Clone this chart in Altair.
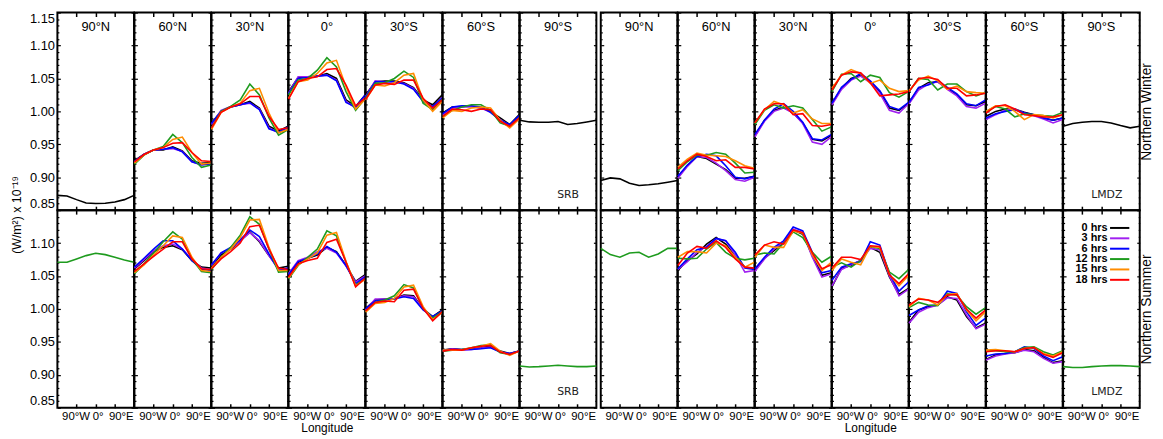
import altair as alt
import pandas as pd

# ---------------- data ----------------
LONS = [-180, -135, -90, -45, 0, 45, 90, 135, 180]
SERIES = ["0 hrs", "3 hrs", "6 hrs", "12 hrs", "15 hrs", "18 hrs"]
COLORS = ["#000000", "#a020f0", "#0000ff", "#1e9b1e", "#ff8c00", "#ff0000"]
LATS = ["90°N", "60°N", "30°N", "0°", "30°S", "60°S", "90°S"]
MODELS = ["SRB", "LMDZ"]
SEASONS = ["Northern Winter", "Northern Summer"]
POLAR_SERIES = ["0 hrs", "12 hrs"]
XTICKS = [-90, 0, 90]
XTICK_LABELS = ["90°W", "0°", "90°E"]
YTICKS_TOP = [0.85, 0.90, 0.95, 1.00, 1.05, 1.10, 1.15]
YTICKS_BOTTOM = [0.85, 0.90, 0.95, 1.00, 1.05, 1.10]
Y_TITLE = "(W/m²) x 10⁻¹⁹"
X_TITLE = "Longitude"

# ---- SRB, Northern Winter ----
SRB_W_90N = [0.8725, 0.8715, 0.866, 0.861, 0.86, 0.8605, 0.8625, 0.866, 0.8725]
SRB_W_60N = [
    [0.925, 0.935, 0.9415, 0.9415, 0.946, 0.94, 0.925, 0.921, 0.9225],
    [0.9235, 0.9345, 0.9415, 0.9425, 0.9435, 0.939, 0.9235, 0.9185, 0.921],
    [0.924, 0.9345, 0.9415, 0.9425, 0.945, 0.9385, 0.9235, 0.919, 0.92],
    [0.92, 0.9335, 0.9415, 0.9465, 0.965, 0.9525, 0.93, 0.915, 0.9185],
    [0.9215, 0.934, 0.9415, 0.945, 0.9575, 0.961, 0.9375, 0.92, 0.9215],
    [0.9235, 0.9345, 0.9415, 0.945, 0.9515, 0.9525, 0.9375, 0.925, 0.924],
]
SRB_W_30N = [
    [0.9825, 1.0, 1.0065, 1.01, 1.015, 1.005, 0.9775, 0.97, 0.9775],
    [0.98, 1.0015, 1.0075, 1.01, 1.0125, 1.0035, 0.975, 0.9675, 0.975],
    [0.9815, 1.0, 1.0065, 1.01, 1.0135, 1.0025, 0.9735, 0.9685, 0.9765],
    [0.975, 1.0, 1.0075, 1.0175, 1.0415, 1.025, 0.99, 0.964, 0.9725],
    [0.9725, 0.9985, 1.0065, 1.0125, 1.0315, 1.035, 0.9975, 0.9675, 0.9725],
    [0.975, 0.9985, 1.0065, 1.0115, 1.0225, 1.0225, 0.9925, 0.9725, 0.975],
]
SRB_W_EQ = [
    [1.03, 1.0515, 1.0525, 1.0535, 1.0575, 1.05, 1.0175, 1.0075, 1.025],
    [1.0275, 1.0525, 1.0525, 1.0535, 1.055, 1.0475, 1.015, 1.005, 1.0235],
    [1.0265, 1.05, 1.0515, 1.0535, 1.055, 1.0465, 1.0135, 1.0065, 1.025],
    [1.025, 1.0475, 1.05, 1.0625, 1.0815, 1.0675, 1.03, 1.0015, 1.02],
    [1.02, 1.045, 1.0475, 1.0575, 1.0735, 1.0775, 1.0375, 1.0035, 1.0185],
    [1.0185, 1.045, 1.05, 1.0525, 1.0635, 1.065, 1.04, 1.0085, 1.02],
]
SRB_W_30S = [
    [1.025, 1.045, 1.046, 1.046, 1.0435, 1.036, 1.0175, 1.01, 1.025],
    [1.0225, 1.0465, 1.045, 1.045, 1.0425, 1.035, 1.015, 1.0065, 1.0215],
    [1.0215, 1.045, 1.045, 1.045, 1.0415, 1.0335, 1.015, 1.0075, 1.02],
    [1.02, 1.0425, 1.0435, 1.05, 1.061, 1.0515, 1.0125, 1.0025, 1.0185],
    [1.0175, 1.04, 1.0385, 1.0435, 1.055, 1.0575, 1.0175, 1.0, 1.015],
    [1.0185, 1.04, 1.0425, 1.041, 1.0475, 1.0475, 1.02, 1.005, 1.0175],
]
SRB_W_60S = [
    [0.9975, 1.0065, 1.0075, 1.0075, 1.005, 1.0, 0.99, 0.98, 0.995],
    [0.995, 1.005, 1.0065, 1.0075, 1.005, 0.9985, 0.9875, 0.9785, 0.9925],
    [0.9965, 1.0065, 1.0085, 1.0085, 1.0065, 0.9985, 0.9865, 0.98, 0.9935],
    [0.9925, 1.0015, 1.0065, 1.01, 1.01, 1.0015, 0.9825, 0.9775, 0.99],
    [0.99, 1.0015, 1.0, 1.005, 1.0065, 1.005, 0.9865, 0.975, 0.9885],
    [0.9925, 1.0035, 1.0025, 1.0, 1.0035, 1.0025, 0.985, 0.9775, 0.99],
]
SRB_W_90S = [0.9865, 0.984, 0.9835, 0.9835, 0.9845, 0.98, 0.9815, 0.984, 0.9865]

# ---- SRB, Northern Summer ----
SRB_S_90N = [1.071, 1.071, 1.076, 1.081, 1.0845, 1.0825, 1.0785, 1.0745, 1.071]
SRB_S_60N = [
    [1.061, 1.0735, 1.087, 1.0935, 1.096, 1.09, 1.0735, 1.0635, 1.062],
    [1.062, 1.075, 1.0885, 1.096, 1.0985, 1.091, 1.075, 1.062, 1.06],
    [1.0635, 1.077, 1.091, 1.1035, 1.1035, 1.091, 1.0735, 1.06, 1.0585],
    [1.0535, 1.0685, 1.085, 1.102, 1.117, 1.106, 1.076, 1.057, 1.055],
    [1.055, 1.067, 1.082, 1.096, 1.111, 1.1085, 1.0785, 1.0585, 1.057],
    [1.057, 1.0685, 1.08, 1.091, 1.102, 1.102, 1.076, 1.061, 1.06],
]
SRB_S_30N = [
    [1.0635, 1.082, 1.091, 1.1035, 1.117, 1.102, 1.081, 1.062, 1.065],
    [1.066, 1.085, 1.092, 1.1035, 1.116, 1.1035, 1.081, 1.06, 1.062],
    [1.067, 1.085, 1.0935, 1.105, 1.12, 1.11, 1.0835, 1.0585, 1.062],
    [1.06, 1.0785, 1.0935, 1.112, 1.14, 1.1285, 1.091, 1.056, 1.057],
    [1.062, 1.0785, 1.091, 1.1085, 1.135, 1.136, 1.0935, 1.0585, 1.0585],
    [1.061, 1.076, 1.087, 1.10, 1.125, 1.127, 1.091, 1.062, 1.06],
]
SRB_S_EQ = [
    [1.051, 1.071, 1.077, 1.082, 1.0935, 1.087, 1.066, 1.042, 1.052],
    [1.0535, 1.0735, 1.0785, 1.087, 1.092, 1.085, 1.065, 1.041, 1.05],
    [1.052, 1.072, 1.077, 1.0835, 1.095, 1.086, 1.066, 1.0385, 1.0485],
    [1.046, 1.066, 1.0785, 1.091, 1.1185, 1.111, 1.071, 1.036, 1.046],
    [1.047, 1.067, 1.076, 1.085, 1.112, 1.116, 1.072, 1.035, 1.045],
    [1.0485, 1.0685, 1.0735, 1.077, 1.101, 1.106, 1.071, 1.0335, 1.047],
]
SRB_S_30S = [
    [1.001, 1.0135, 1.015, 1.016, 1.021, 1.02, 1.0, 0.9885, 0.9985],
    [0.9985, 1.015, 1.015, 1.016, 1.02, 1.0185, 1.0, 0.987, 0.996],
    [1.0, 1.012, 1.0135, 1.015, 1.0185, 1.016, 0.9985, 0.9885, 0.997],
    [0.996, 1.01, 1.0135, 1.02, 1.037, 1.032, 1.001, 0.986, 0.996],
    [0.995, 1.0085, 1.01, 1.016, 1.0335, 1.036, 1.0035, 0.9835, 0.995],
    [0.997, 1.01, 1.012, 1.011, 1.0285, 1.03, 1.001, 0.982, 0.996],
]
SRB_S_60S = [
    [0.9375, 0.9395, 0.9385, 0.9395, 0.941, 0.9435, 0.936, 0.9325, 0.936],
    [0.936, 0.9395, 0.9375, 0.9385, 0.9405, 0.942, 0.9345, 0.9325, 0.936],
    [0.9375, 0.9385, 0.9385, 0.9385, 0.9395, 0.941, 0.9345, 0.9325, 0.936],
    [0.936, 0.9375, 0.9385, 0.941, 0.9445, 0.9455, 0.9335, 0.931, 0.936],
    [0.9375, 0.9375, 0.9375, 0.941, 0.9435, 0.9475, 0.936, 0.9295, 0.936],
    [0.936, 0.9385, 0.9375, 0.941, 0.9435, 0.9445, 0.9345, 0.931, 0.936],
]
SRB_S_90S = [0.9135, 0.912, 0.9125, 0.9135, 0.9145, 0.9135, 0.9125, 0.9125, 0.9135]

# ---- LMDZ, Northern Winter ----
LMDZ_W_90N = [0.895, 0.899, 0.8975, 0.891, 0.8875, 0.8885, 0.89, 0.8925, 0.895]
LMDZ_W_60N = [
    [0.90, 0.9175, 0.9315, 0.9285, 0.92, 0.9115, 0.8985, 0.8985, 0.9015],
    [0.8985, 0.9165, 0.9315, 0.93, 0.9215, 0.91, 0.8965, 0.894, 0.90],
    [0.9015, 0.9185, 0.9315, 0.935, 0.9325, 0.9175, 0.90, 0.8975, 0.9015],
    [0.91, 0.9235, 0.9335, 0.9335, 0.9375, 0.935, 0.9215, 0.9065, 0.9075],
    [0.915, 0.9275, 0.9365, 0.9335, 0.9325, 0.9315, 0.925, 0.9175, 0.9135],
    [0.9125, 0.925, 0.935, 0.9315, 0.925, 0.9265, 0.915, 0.915, 0.9125],
]
LMDZ_W_30N = [
    [0.9625, 0.9865, 1.0015, 1.0065, 0.9975, 0.9825, 0.9575, 0.955, 0.9635],
    [0.9615, 0.985, 1.0, 1.005, 0.9975, 0.9815, 0.9535, 0.95, 0.9615],
    [0.965, 0.9865, 1.0035, 1.0115, 1.0, 0.9835, 0.9585, 0.9565, 0.965],
    [0.98, 1.0015, 1.01, 1.005, 1.0085, 1.005, 0.9875, 0.97, 0.9765],
    [0.9825, 1.0025, 1.015, 1.01, 0.9975, 1.0025, 0.9885, 0.9815, 0.9815],
    [0.9825, 1.0035, 1.0115, 1.0115, 0.995, 0.9965, 0.9785, 0.9775, 0.98],
]
LMDZ_W_EQ = [
    [1.0115, 1.035, 1.05, 1.055, 1.045, 1.03, 1.005, 1.0015, 1.0125],
    [1.01, 1.0335, 1.0475, 1.0535, 1.0435, 1.0275, 1.0015, 0.9975, 1.0115],
    [1.0125, 1.0365, 1.0485, 1.0575, 1.0465, 1.0315, 1.0075, 1.0025, 1.0135],
    [1.03, 1.0565, 1.0575, 1.045, 1.055, 1.0515, 1.0285, 1.0215, 1.03],
    [1.035, 1.055, 1.0635, 1.0575, 1.0425, 1.0475, 1.035, 1.03, 1.0315],
    [1.0325, 1.055, 1.06, 1.0585, 1.0435, 1.0235, 1.025, 1.0265, 1.03],
]
LMDZ_W_30S = [
    [1.0125, 1.035, 1.0435, 1.045, 1.035, 1.025, 1.01, 1.0085, 1.015],
    [1.0115, 1.0325, 1.0415, 1.045, 1.0335, 1.0235, 1.0075, 1.005, 1.0125],
    [1.0135, 1.0365, 1.04, 1.0465, 1.0365, 1.0265, 1.0115, 1.0085, 1.0175],
    [1.03, 1.05, 1.0485, 1.0325, 1.0415, 1.0415, 1.03, 1.0235, 1.0285],
    [1.0315, 1.0475, 1.0535, 1.0465, 1.0335, 1.0385, 1.03, 1.0285, 1.0275],
    [1.03, 1.05, 1.0515, 1.0485, 1.035, 1.035, 1.0235, 1.025, 1.0275],
]
LMDZ_W_60S = [
    [0.9925, 1.0, 1.0035, 1.0035, 0.9985, 0.995, 0.99, 0.9865, 0.99],
    [0.9875, 0.995, 1.0015, 1.0035, 0.9975, 0.9935, 0.9885, 0.9825, 0.9875],
    [0.99, 0.9965, 1.0, 1.0025, 0.9975, 0.995, 0.99, 0.9865, 0.99],
    [1.0, 1.0075, 1.0035, 0.9915, 0.9965, 0.995, 0.9935, 0.9925, 0.9985],
    [1.0, 1.0085, 1.0085, 1.0, 0.9875, 0.995, 0.9935, 0.99, 0.995],
    [0.9975, 1.0075, 1.01, 1.0035, 0.995, 0.9935, 0.9915, 0.9915, 0.995],
]
LMDZ_W_90S = [0.9775, 0.9815, 0.9835, 0.9845, 0.9845, 0.9825, 0.9785, 0.975, 0.9775]

# ---- LMDZ, Northern Summer ----
LMDZ_S_90N = [1.092, 1.0825, 1.0785, 1.085, 1.086, 1.0785, 1.0835, 1.092, 1.092]
LMDZ_S_60N = [
    [1.0585, 1.0735, 1.0835, 1.0985, 1.1085, 1.0985, 1.081, 1.0635, 1.061],
    [1.06, 1.072, 1.086, 1.095, 1.107, 1.1035, 1.082, 1.056, 1.0585],
    [1.061, 1.076, 1.09, 1.0935, 1.107, 1.1035, 1.086, 1.062, 1.06],
    [1.077, 1.076, 1.077, 1.091, 1.101, 1.086, 1.077, 1.0745, 1.077],
    [1.0785, 1.087, 1.087, 1.085, 1.10, 1.096, 1.0785, 1.0635, 1.071],
    [1.066, 1.085, 1.095, 1.092, 1.1035, 1.0935, 1.076, 1.0635, 1.062],
]
LMDZ_S_30N = [
    [1.0585, 1.077, 1.0885, 1.101, 1.12, 1.1135, 1.081, 1.051, 1.055],
    [1.057, 1.076, 1.091, 1.102, 1.121, 1.116, 1.0785, 1.0485, 1.0535],
    [1.061, 1.0785, 1.0935, 1.1035, 1.1245, 1.1185, 1.086, 1.055, 1.0585],
    [1.082, 1.085, 1.0835, 1.10, 1.117, 1.1085, 1.086, 1.071, 1.08],
    [1.0785, 1.097, 1.0935, 1.0935, 1.1185, 1.115, 1.082, 1.0585, 1.071],
    [1.082, 1.097, 1.102, 1.0985, 1.12, 1.116, 1.085, 1.061, 1.067],
]
LMDZ_S_EQ = [
    [1.0335, 1.062, 1.066, 1.0735, 1.0935, 1.086, 1.0485, 1.022, 1.031],
    [1.035, 1.06, 1.067, 1.0735, 1.092, 1.09, 1.05, 1.02, 1.03],
    [1.0435, 1.0635, 1.0685, 1.072, 1.102, 1.097, 1.0535, 1.027, 1.041],
    [1.0635, 1.07, 1.0635, 1.0735, 1.095, 1.092, 1.056, 1.046, 1.06],
    [1.0585, 1.076, 1.071, 1.067, 1.095, 1.0935, 1.052, 1.035, 1.051],
    [1.062, 1.0785, 1.0785, 1.075, 1.096, 1.095, 1.052, 1.0385, 1.0535],
]
LMDZ_S_30S = [
    [0.98, 0.9985, 1.0035, 1.006, 1.0185, 1.0135, 0.9885, 0.971, 0.9785],
    [0.9785, 0.995, 1.002, 1.006, 1.017, 1.016, 0.991, 0.97, 0.977],
    [0.99, 0.9985, 1.005, 1.006, 1.027, 1.0235, 0.996, 0.975, 0.986],
    [1.002, 1.01, 1.006, 1.005, 1.0235, 1.021, 1.0035, 0.992, 1.002],
    [1.0035, 1.016, 1.0135, 1.006, 1.022, 1.0235, 0.9985, 0.982, 0.996],
    [1.006, 1.015, 1.0135, 1.01, 1.021, 1.022, 1.0, 0.986, 0.9985],
]
LMDZ_S_60S = [
    [0.9235, 0.93, 0.9325, 0.9335, 0.9385, 0.9365, 0.9265, 0.9185, 0.9215],
    [0.9225, 0.9285, 0.9315, 0.9335, 0.9375, 0.935, 0.925, 0.9175, 0.92],
    [0.9285, 0.9315, 0.9325, 0.935, 0.9425, 0.94, 0.9285, 0.9215, 0.9275],
    [0.9365, 0.9365, 0.935, 0.935, 0.9415, 0.9425, 0.935, 0.93, 0.9365],
    [0.9375, 0.9385, 0.9365, 0.935, 0.94, 0.9415, 0.9325, 0.9285, 0.935],
    [0.935, 0.9365, 0.9365, 0.935, 0.94, 0.9415, 0.931, 0.9265, 0.9335],
]
LMDZ_S_90S = [0.9125, 0.911, 0.911, 0.9125, 0.9135, 0.914, 0.914, 0.9135, 0.9125]

PANELS = {
    ("SRB", 0): [SRB_W_90N, SRB_W_60N, SRB_W_30N, SRB_W_EQ, SRB_W_30S, SRB_W_60S, SRB_W_90S],
    ("SRB", 1): [SRB_S_90N, SRB_S_60N, SRB_S_30N, SRB_S_EQ, SRB_S_30S, SRB_S_60S, SRB_S_90S],
    ("LMDZ", 0): [LMDZ_W_90N, LMDZ_W_60N, LMDZ_W_30N, LMDZ_W_EQ, LMDZ_W_30S, LMDZ_W_60S, LMDZ_W_90S],
    ("LMDZ", 1): [LMDZ_S_90N, LMDZ_S_60N, LMDZ_S_30N, LMDZ_S_EQ, LMDZ_S_30S, LMDZ_S_60S, LMDZ_S_90S],
}

# ---------------- layout / style ----------------
W = 77.55
H = 200
GAP = 3.4
FONT = "Liberation Sans"
MINOR = [round(0.85 + 0.01 * i, 2) for i in range(31) if i % 5]
XS = alt.Scale(domain=[-180, 180], nice=False, zero=False)
YS = alt.Scale(domain=[0.85, 1.15], nice=False, zero=False)
CS = alt.Scale(domain=SERIES, range=COLORS)
LABEL_EXPR = " : ".join(
    [f"datum.value == {v} ? '{t}'" for v, t in zip(XTICKS, XTICK_LABELS)] + ["''"]
)
X_LABEL_OFFSET = {
    "condition": [
        {"test": "datum.value < 0", "value": -1},
        {"test": "datum.value > 0", "value": 6},
    ],
    "value": 2,
}


def xaxis(orient, labels=False, title=None):
    kw = dict(orient=orient, values=XTICKS, tickSize=4, offset=-4, domain=False,
              grid=False, labels=labels, tickColor="black", tickWidth=1.5,
              title=title)
    if labels:
        kw.update(labelExpr=LABEL_EXPR, labelFontSize=11.5, labelFont=FONT,
                  labelColor="black", labelPadding=3, labelOverlap=False,
                  labelOffset=X_LABEL_OFFSET)
    if title:
        kw.update(titleFontSize=12, titleFont=FONT, titleFontWeight="normal",
                  titleColor="black", titlePadding=1)
    return alt.Axis(**kw)


def yaxis(orient, values, size, labels=False, title=None):
    kw = dict(orient=orient, values=values, tickSize=size, offset=-size,
              domain=False, grid=False, labels=labels, tickColor="black",
              tickWidth=1.2, title=title)
    if labels:
        kw.update(format=".2f", labelFontSize=13, labelFont=FONT,
                  labelColor="black", labelPadding=3, labelFlush=True,
                  labelOverlap=False)
    if title:
        kw.update(titleFontSize=14, titleFont=FONT, titleFontWeight="normal",
                  titleColor="black", titleAngle=270, titlePadding=13)
    return alt.Axis(**kw)


def make_panel(model, si, li):
    vals = PANELS[(model, si)][li]
    rows = []
    if li in (0, 6):
        for lon, v in zip(LONS, vals):
            rows.append({"lon": lon, "value": v, "series": POLAR_SERIES[si]})
    else:
        for s, ser in zip(SERIES, vals):
            for lon, v in zip(LONS, ser):
                rows.append({"lon": lon, "value": v, "series": s})
    df = pd.DataFrame(rows)
    first_col = model == "SRB" and li == 0
    last_col = model == "LMDZ" and li == 6
    bottom = si == 1
    yvals = YTICKS_BOTTOM if bottom else YTICKS_TOP

    base = alt.Chart(df)
    main = base.mark_line(strokeWidth=1.6).encode(
        x=alt.X("lon:Q", scale=XS,
                axis=xaxis("bottom", labels=bottom,
                           title=X_TITLE if (bottom and li == 3) else None)),
        y=alt.Y("value:Q", scale=YS,
                axis=yaxis("left", yvals, 3, labels=first_col)),
        color=alt.Color("series:N", scale=CS, legend=None),
        order=alt.Order("lon:Q"),
    )
    ghost1 = base.mark_line(strokeOpacity=0).encode(
        x=alt.X("lon:Q", scale=XS, axis=xaxis("top")),
        y=alt.Y("value:Q", scale=YS,
                axis=yaxis("right", YTICKS_TOP, 3,
                           title=SEASONS[si] if last_col else None)),
        detail="series:N",
    )
    ghost2 = base.mark_line(strokeOpacity=0).encode(
        x=alt.X("lon:Q", scale=XS, axis=None),
        y=alt.Y("value:Q", scale=YS, axis=yaxis("left", MINOR, 1.5)),
        detail="series:N",
    )
    ghost3 = base.mark_line(strokeOpacity=0).encode(
        x=alt.X("lon:Q", scale=XS, axis=None),
        y=alt.Y("value:Q", scale=YS, axis=yaxis("right", MINOR, 1.5)),
        detail="series:N",
    )
    layers = [main, ghost1, ghost2, ghost3]
    if not bottom:
        lat = alt.Chart(pd.DataFrame({"t": [LATS[li]]})).mark_text(
            font=FONT, fontSize=13, color="black", align="center", baseline="middle"
        ).encode(text="t:N", x=alt.value(W / 2), y=alt.value(15))
        layers.append(lat)
    if li == 6:
        lab = alt.Chart(pd.DataFrame({"t": [model]})).mark_text(
            font="DejaVu Sans", fontSize=11, color="#222222", align="right",
            baseline="middle"
        ).encode(text="t:N", x=alt.value(60), y=alt.value(184.5))
        layers.append(lab)
    legend_panel = last_col and bottom
    if legend_panel:
        ldf = pd.DataFrame({"series": SERIES})
        ly = alt.Y("series:N", scale=alt.Scale(type="point", domain=SERIES,
                                               range=[18, 70.5], padding=0),
                   axis=None)
        ltext = alt.Chart(ldf).mark_text(
            font=FONT, fontSize=11, fontWeight="bold", color="black",
            align="right", baseline="middle"
        ).encode(text="series:N", y=ly, x=alt.value(45))
        lrule = alt.Chart(ldf).mark_rule(strokeWidth=2).encode(
            y=ly, x=alt.value(47.5), x2=alt.value(67),
            color=alt.Color("series:N", scale=CS, legend=None),
        )
        layers += [ltext, lrule]
    ch = alt.layer(*layers).resolve_axis(x="independent", y="independent")
    if legend_panel:
        ch = ch.resolve_scale(y="independent")
    return ch.properties(width=W, height=H)


def spacer():
    return alt.Chart(pd.DataFrame({"a": [0]})).mark_point(opacity=0).encode(
        x=alt.X("a:Q", axis=None), y=alt.Y("a:Q", axis=None)
    ).properties(width=GAP, height=H, view=alt.ViewBackground(strokeOpacity=0))


cells = []
for si in range(2):
    for mi, model in enumerate(MODELS):
        for li in range(7):
            cells.append(make_panel(model, si, li))
        if mi == 0:
            cells.append(spacer())

chart = alt.concat(*cells, columns=15, spacing=0, bounds="flush").properties(
    title=alt.TitleParams(text=Y_TITLE, orient="left", anchor="middle",
                          font=FONT, fontSize=12.5, fontWeight="normal",
                          color="black", offset=5, dx=8),
    padding={"left": 3, "top": 0, "right": 0, "bottom": 2},
    background="white",
).configure_view(stroke="black", strokeWidth=2)

chart.save("out.html", embed_options={"renderer": "svg", "actions": False})
